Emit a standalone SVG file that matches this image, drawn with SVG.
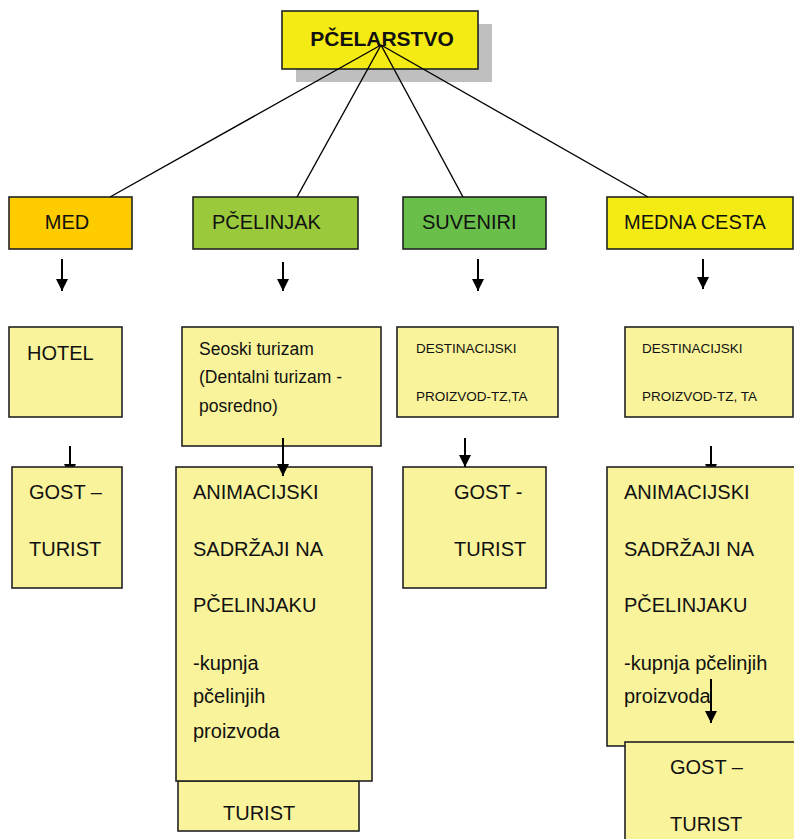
<svg xmlns="http://www.w3.org/2000/svg" width="794" height="839" viewBox="0 0 794 839">
<style>
text{font-family:"Liberation Sans",Arial,sans-serif;fill:#111}
.box{stroke:#222;stroke-width:1.6}
.pale{fill:#F9F49B}
.l{font-size:20px}
.s{font-size:17.5px}
.xs{font-size:13.5px}
.con{stroke:#000;stroke-width:1.4;fill:none}
.arr{stroke:#000;stroke-width:2;fill:none;marker-end:url(#ah)}
</style>
<defs>
<marker id="ah" markerUnits="userSpaceOnUse" markerWidth="12" markerHeight="13" refX="12" refY="6" orient="auto" viewBox="0 0 12 12">
<path d="M0,0 L12,6 L0,12 z" fill="#000"/>
</marker>
</defs>
<rect width="794" height="839" fill="#fff"/>
<g id="title">
<rect x="296" y="24" width="196" height="58" fill="#BFBFBF"/>
<rect class="box" x="282" y="11" width="196" height="58" fill="#F5EB14"/>
<text x="382" y="46" text-anchor="middle" font-size="21" font-weight="bold">PČELARSTVO</text>
</g>
<g id="connectors-back">
<line class="arr" x1="70" y1="446" x2="70" y2="476"/>
<line class="arr" x1="711" y1="446" x2="711" y2="476"/>
</g>
<g id="med">
<rect class="box" x="9" y="197" width="123" height="52" fill="#FFCC00"/>
<text class="l" x="67" y="229" text-anchor="middle">MED</text>
</g>
<g id="pcelinjak">
<rect class="box" x="193" y="197" width="165" height="52" fill="#9ACA3C"/>
<text class="l" x="212" y="229">PČELINJAK</text>
</g>
<g id="suveniri">
<rect class="box" x="403" y="197" width="143" height="52" fill="#6ABF4B"/>
<text class="l" x="422" y="229">SUVENIRI</text>
</g>
<g id="medna-cesta">
<rect class="box" x="607" y="197" width="186" height="52" fill="#F5EB14"/>
<text class="l" x="624" y="229">MEDNA CESTA</text>
</g>
<g id="hotel">
<rect class="box pale" x="9" y="327" width="113" height="90"/>
<text class="l" x="27" y="360">HOTEL</text>
</g>
<g id="seoski">
<rect class="box pale" x="182" y="327" width="199" height="119"/>
<text class="s" x="199" y="355">Seoski turizam</text>
<text class="s" x="199" y="383">(Dentalni turizam -</text>
<text class="s" x="199" y="412">posredno)</text>
</g>
<g id="dest1">
<rect class="box pale" x="397" y="327" width="161" height="90"/>
<text class="xs" x="416" y="353">DESTINACIJSKI</text>
<text class="xs" x="416" y="401">PROIZVOD-TZ,TA</text>
</g>
<g id="dest2">
<rect class="box pale" x="625" y="327" width="168" height="90"/>
<text class="xs" x="642" y="353">DESTINACIJSKI</text>
<text class="xs" x="642" y="401">PROIZVOD-TZ, TA</text>
</g>
<g id="gost1">
<rect class="box pale" x="12" y="467" width="110" height="121"/>
<text class="l" x="29" y="499">GOST –</text>
<text class="l" x="29" y="556">TURIST</text>
</g>
<g id="turist">
<rect class="box pale" x="178" y="781" width="181" height="50"/>
<text class="l" x="223" y="820">TURIST</text>
</g>
<g id="anim1">
<rect class="box pale" x="176" y="467" width="196" height="314"/>
<text class="l" x="193" y="499">ANIMACIJSKI</text>
<text class="l" x="193" y="556">SADRŽAJI NA</text>
<text class="l" x="193" y="612">PČELINJAKU</text>
<text class="l" x="193" y="670">-kupnja</text>
<text class="l" x="193" y="703">pčelinjih</text>
<text class="l" x="193" y="738">proizvoda</text>
</g>
<g id="gost2">
<rect class="box pale" x="403" y="467" width="143" height="121"/>
<text class="l" x="454" y="499">GOST -</text>
<text class="l" x="454" y="556">TURIST</text>
</g>
<g id="anim2">
<rect class="box pale" x="607" y="467" width="200" height="279"/>
<text class="l" x="624" y="499">ANIMACIJSKI</text>
<text class="l" x="624" y="556">SADRŽAJI NA</text>
<text class="l" x="624" y="612">PČELINJAKU</text>
<text class="l" x="624" y="670">-kupnja pčelinjih</text>
<text class="l" x="624" y="703">proizvoda</text>
</g>
<g id="gost3">
<rect class="box pale" x="625" y="742" width="180" height="110"/>
<text class="l" x="670" y="774">GOST –</text>
<text class="l" x="670" y="831">TURIST</text>
</g>
<g id="connectors">
<line class="con" x1="381" y1="45" x2="110" y2="197"/>
<line class="con" x1="381" y1="45" x2="297" y2="197"/>
<line class="con" x1="381" y1="45" x2="463" y2="197"/>
<line class="con" x1="381" y1="45" x2="648" y2="197"/>
<line class="arr" x1="62" y1="259" x2="62" y2="291"/>
<line class="arr" x1="283" y1="262" x2="283" y2="291"/>
<line class="arr" x1="478" y1="259" x2="478" y2="291"/>
<line class="arr" x1="703" y1="259" x2="703" y2="289"/>
<line class="arr" x1="283" y1="438" x2="283" y2="476"/>
<line class="arr" x1="465" y1="438" x2="465" y2="467"/>
<line class="arr" x1="711" y1="679" x2="711" y2="723"/>
</g>
</svg>
